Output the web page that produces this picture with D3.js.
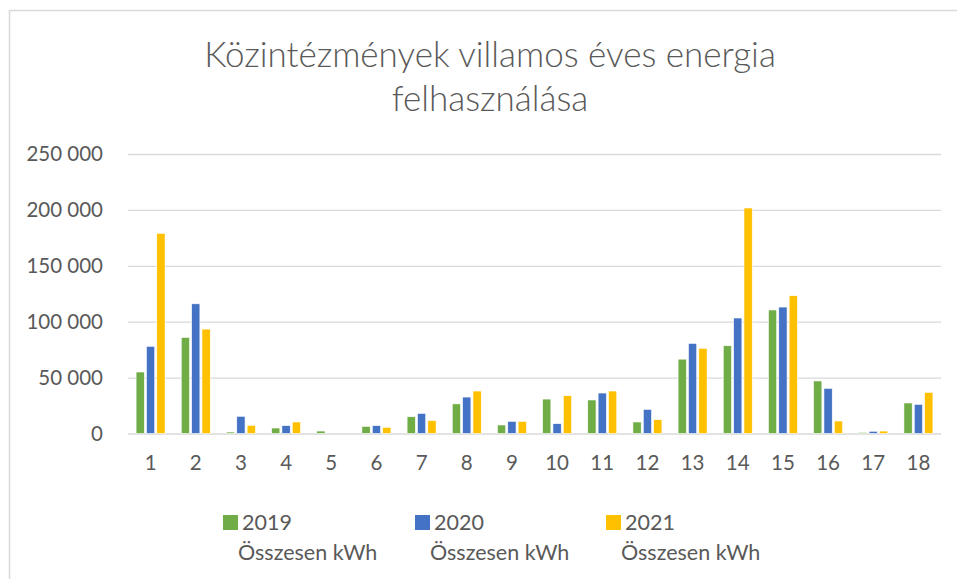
<!DOCTYPE html>
<html>
<head>
<meta charset="utf-8">
<script src="https://cdn.jsdelivr.net/npm/d3@7"></script>
<style>
  body { margin: 0; background: #fff; }
  svg { display: block; font-family: Lato, "Open Sans", sans-serif; }
</style>
</head>
<body>
<svg id="chart"></svg>
<script>
// Közintézmények villamos éves energia felhasználása (kWh)

const categories = ["1", "2", "3", "4", "5", "6", "7", "8", "9", "10", "11", "12", "13", "14", "15", "16", "17", "18"];
const seriesNames = ["2019", "2020", "2021"];
const values2019 = [55000, 86000, 1300, 4900, 2200, 6400, 15000, 26500, 7600, 30800, 30000, 10300, 66500, 78500, 110500, 47000, 1000, 27300];
const values2020 = [78000, 116000, 15400, 7000, 0, 7000, 18000, 32600, 10900, 8800, 36200, 21600, 80600, 103300, 113100, 40400, 2000, 26100];
const values2021 = [179000, 93400, 7300, 10300, 0, 5500, 11500, 38000, 10900, 33800, 38000, 12400, 76200, 201700, 123200, 11200, 2200, 36800];
const yTicks = [0, 50000, 100000, 150000, 200000, 250000];

const W = 957, H = 579;
const svg = d3.select("#chart").attr("width", W).attr("height", H);

const colors = { "2019": "#70AD47", "2020": "#4472C4", "2021": "#FFC000" };
const textColor = "#595959";
const gridColor = "#D9D9D9";

// outer chart border (cut by the window on the right and bottom)
svg.append("rect")
  .attr("x", 9.5).attr("y", 10.5)
  .attr("width", W + 20).attr("height", H + 20)
  .attr("fill", "none")
  .attr("stroke", gridColor)
  .attr("stroke-width", 1.5);

// title
const title = svg.append("text")
  .attr("text-anchor", "middle")
  .attr("fill", textColor)
  .style("font-weight", 300)
  .style("font-size", "35px");
title.append("tspan").attr("x", 490).attr("y", 67).text("Közintézmények villamos éves energia");
title.append("tspan").attr("x", 490).attr("y", 111).text("felhasználása");

const plot = { left: 128, right: 941, top: 154, bottom: 433.5 };

const x0 = d3.scaleBand().domain(categories).range([plot.left, plot.right]);
const x1 = d3.scaleBand().domain(seriesNames).range([-14.5, 14.5]).paddingInner(0.2);
const y = d3.scaleLinear().domain([0, 250000]).range([plot.bottom, plot.top]);

const huLocale = d3.formatLocale({ decimal: ",", thousands: " ", grouping: [3], currency: ["", ""] });
const fmt = huLocale.format(",d");

// gridlines + y labels
const yAxis = svg.append("g")
  .attr("transform", `translate(${plot.left},0)`)
  .call(d3.axisLeft(y).tickValues(yTicks).tickFormat(fmt)
    .tickSize(-(plot.right - plot.left)).tickPadding(25));
yAxis.select(".domain").remove();
yAxis.selectAll(".tick line").attr("stroke", gridColor).attr("stroke-width", 1.3);
yAxis.selectAll(".tick text")
  .attr("fill", textColor)
  .style("font-size", "20.5px")
  .style("font-family", "Lato, 'Open Sans', sans-serif");

// x labels
const xAxis = svg.append("g")
  .attr("transform", `translate(0,${plot.bottom})`)
  .call(d3.axisBottom(x0).tickSize(0).tickPadding(22));
xAxis.select(".domain").remove();
xAxis.selectAll(".tick text")
  .attr("fill", textColor)
  .style("font-size", "20.5px")
  .style("font-family", "Lato, 'Open Sans', sans-serif");

// bars
const rows = categories.map((c, i) => ({
  cat: c,
  vals: [
    { key: "2019", value: values2019[i] },
    { key: "2020", value: values2020[i] },
    { key: "2021", value: values2021[i] },
  ],
}));

svg.append("g")
  .selectAll("g")
  .data(rows)
  .join("g")
  .attr("transform", (d) => `translate(${x0(d.cat) + x0.bandwidth() / 2},0)`)
  .selectAll("rect")
  .data((d) => d.vals.filter((v) => v.value > 0))
  .join("rect")
  .attr("x", (d) => x1(d.key))
  .attr("width", x1.bandwidth())
  .attr("y", (d) => y(d.value))
  .attr("height", (d) => y(0) - y(d.value))
  .attr("fill", (d) => colors[d.key])
  .attr("stroke", "#fff")
  .attr("stroke-width", 0.6);

// legend
const legendX = [223, 415, 606];
const legend = svg.append("g")
  .selectAll("g")
  .data(seriesNames)
  .join("g")
  .attr("transform", (d, i) => `translate(${legendX[i]},0)`);

legend.append("rect")
  .attr("x", 0).attr("y", 515)
  .attr("width", 15).attr("height", 15)
  .attr("fill", (d) => colors[d]);

legend.append("text")
  .attr("x", 19).attr("y", 530)
  .attr("fill", textColor)
  .style("font-size", "21.5px")
  .text((d) => d);

legend.append("text")
  .attr("x", 15).attr("y", 560)
  .attr("fill", textColor)
  .style("font-size", "21.5px")
  .text("Összesen kWh");
</script>
</body>
</html>
